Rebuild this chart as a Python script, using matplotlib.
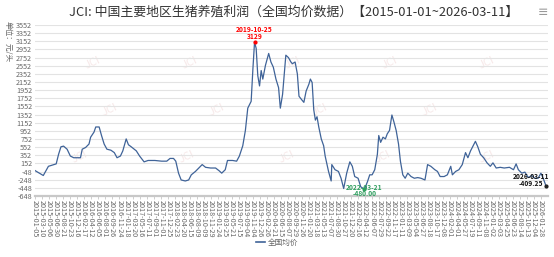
import matplotlib.pyplot as plt
import matplotlib.dates as mdates
from matplotlib.lines import Line2D
import numpy as np
import pandas as pd

plt.rcParams['font.family'] = ['Noto Sans CJK SC', 'DejaVu Sans']

# profit per head (yuan)
dates = [
    '2015-01-05', '2015-03-13', '2015-04-23', '2015-05-20', '2015-06-24', '2015-07-13',
    '2015-08-01', '2015-08-22', '2015-09-19', '2015-10-15', '2015-11-11', '2016-01-04',
    '2016-01-18', '2016-02-14', '2016-03-12', '2016-03-25', '2016-04-21', '2016-05-05',
    '2016-06-01', '2016-06-20', '2016-07-11', '2016-08-02', '2016-09-03', '2016-09-30',
    '2016-10-22', '2016-11-18', '2016-12-07', '2017-01-03', '2017-01-21', '2017-02-12',
    '2017-03-25', '2017-04-20', '2017-05-26', '2017-06-27', '2017-08-20', '2017-10-13',
    '2017-11-23', '2017-12-19', '2018-01-16', '2018-02-03', '2018-02-25', '2018-03-18',
    '2018-04-20', '2018-05-17', '2018-06-07', '2018-07-10', '2018-08-06', '2018-09-02',
    '2018-09-29', '2018-11-08', '2018-12-18', '2019-01-15', '2019-02-05', '2019-03-05',
    '2019-03-23', '2019-05-03', '2019-06-04', '2019-06-26', '2019-07-23', '2019-08-13',
    '2019-09-01', '2019-09-28', '2019-10-12', '2019-10-25', '2019-11-07', '2019-11-20',
    '2019-12-04', '2019-12-17', '2019-12-30', '2020-01-20', '2020-02-15', '2020-03-04',
    '2020-03-23', '2020-04-13', '2020-05-04', '2020-05-18', '2020-06-05', '2020-07-01',
    '2020-07-22', '2020-08-09', '2020-08-22', '2020-09-13', '2020-10-01', '2020-10-14',
    '2020-11-04', '2020-11-22', '2020-12-10', '2021-01-01', '2021-01-13', '2021-01-27',
    '2021-02-09', '2021-02-22', '2021-03-07', '2021-03-21', '2021-04-10', '2021-04-29',
    '2021-05-11', '2021-06-07', '2021-06-28', '2021-07-03', '2021-07-29', '2021-08-25',
    '2021-09-15', '2021-10-06', '2021-10-30', '2021-11-24', '2021-12-14', '2022-01-02',
    '2022-01-29', '2022-02-19', '2022-03-21', '2022-04-14', '2022-05-02', '2022-05-21',
    '2022-06-11', '2022-07-02', '2022-07-13', '2022-07-28', '2022-08-16', '2022-09-04',
    '2022-09-19', '2022-10-07', '2022-10-26', '2022-11-11', '2022-11-29', '2022-12-18',
    '2023-01-02', '2023-01-21', '2023-02-09', '2023-03-02', '2023-03-28', '2023-04-23',
    '2023-05-20', '2023-06-15', '2023-07-17', '2023-08-07', '2023-09-02', '2023-10-04',
    '2023-10-25', '2023-11-15', '2023-12-17', '2024-01-12', '2024-02-08', '2024-02-21',
    '2024-03-18', '2024-04-13', '2024-05-10', '2024-06-05', '2024-06-24', '2024-07-15',
    '2024-08-05', '2024-08-23', '2024-09-11', '2024-10-02', '2024-10-28', '2024-11-24',
    '2024-12-20', '2025-01-10', '2025-02-05', '2025-03-09', '2025-04-10', '2025-05-22',
    '2025-06-23', '2025-07-14', '2025-08-01', '2025-08-28', '2025-09-22', '2025-10-19',
    '2025-11-15', '2025-12-11', '2026-01-06', '2026-01-28', '2026-02-15', '2026-03-11',
]
profit = [
    -20, -143, 83, 108, 142, 377,
    562, 578, 503, 335, 293, 293,
    503, 545, 629, 797, 922, 1048,
    1048, 839, 629, 503, 478, 419,
    293, 335, 461, 755, 612, 562,
    461, 335, 192, 226, 226, 209,
    209, 276, 276, 209, -85, -252,
    -277, -252, -126, -43, 41, 125,
    58, 41, 41, -26, -85, -1,
    226, 226, 209, 335, 587, 964,
    1510, 1677, 2474, 3129, 2978, 2307,
    2055, 2433, 2223, 2558, 2852, 2642,
    2516, 2223, 2013, 1510, 1850, 2810,
    2750, 2650, 2600, 2642, 2349, 1803,
    1719, 1652, 1929, 2097, 2223, 2139,
    1468, 1216, 1300, 1048, 755, 587,
    335, -43, -277, 125, -1, -43,
    -210, -462, -85, 192, 83, -168,
    -210, -420, -480, -294, -126, -126,
    -1, 377, 839, 671, 797, 755,
    880, 964, 1342, 1174, 964, 629,
    209, -126, -210, -85, -168, -210,
    -194, -210, -252, 125, 83, -1,
    -43, -168, -168, -126, 83, -126,
    -43, -1, 125, 419, 293, 461,
    587, 696, 562, 377, 293, 167,
    83, 167, 41, 58, 41, 58,
    -1, 142, -1, -85, -60, -194,
    -143, -210, -210, -85, -210, -409.25,
]

tick_labels = [
    '2015-01-05', '2015-03-10', '2015-05-06', '2015-06-30', '2015-08-21', '2015-10-23',
    '2015-12-16', '2016-02-17', '2016-04-12', '2016-06-05', '2016-08-01', '2016-09-26',
    '2016-11-24', '2017-01-18', '2017-03-20', '2017-05-16', '2017-07-11', '2017-09-01',
    '2017-11-01', '2017-12-25', '2018-02-23', '2018-04-20', '2018-06-15', '2018-08-09',
    '2018-10-09', '2018-11-29', '2019-01-24', '2019-03-25', '2019-05-21', '2019-07-15',
    '2019-09-04', '2019-11-04', '2019-12-26', '2020-02-26', '2020-04-21', '2020-06-15',
    '2020-08-07', '2020-09-29', '2020-11-26', '2021-01-20', '2021-03-18', '2021-05-13',
    '2021-07-07', '2021-08-30', '2021-10-27', '2021-12-20', '2022-02-16', '2022-04-12',
    '2022-06-07', '2022-07-29', '2022-09-22', '2022-11-17', '2023-01-11', '2023-03-09',
    '2023-05-04', '2023-06-27', '2023-08-18', '2023-10-17', '2023-12-08', '2024-02-01',
    '2024-04-01', '2024-05-27', '2024-07-19', '2024-09-11', '2024-11-08', '2025-01-02',
    '2025-03-03', '2025-04-25', '2025-06-23', '2025-08-14', '2025-10-13', '2025-12-04',
    '2026-01-28',
]
y_ticks = list(range(-648, 3553, 200))

peak_date, peak_val = '2019-10-25', 3129
low_date, low_val = '2022-03-21', -480.00
last_date, last_val = '2026-03-11', -409.25

fig = plt.figure(figsize=(5.54, 2.57), dpi=100)
ax = fig.add_axes([0.063, 0.237, 0.926, 0.666])

x = mdates.date2num(pd.to_datetime(dates))
ax.plot(x, profit, color='#3f6398', lw=0.9, zorder=3)

# faint watermarks
for wx, wy in [(93, 63), (190, 63), (293, 63), (390, 63), (487, 63),
               (110, 110), (217, 110), (320, 110), (430, 110),
               (80, 157), (187, 157), (287, 157), (383, 157), (487, 157)]:
    ax.text(wx / 554, 1 - wy / 257, 'JCI', transform=fig.transFigure, rotation=25,
            fontsize=8, color='#f7e9e9', ha='center', va='center', zorder=0)

x0 = mdates.date2num(pd.Timestamp(tick_labels[0]))
x1 = mdates.date2num(pd.Timestamp(tick_labels[-1]))
ax.set_xticks(np.linspace(x0, x1, len(tick_labels)))
ax.set_xticklabels(tick_labels, rotation=-90, fontsize=5.2, color='#666')
ax.set_xlim(x0, x0 + (x1 - x0) * 513 / 506)
ax.tick_params(axis='x', length=2, width=0.5, color='#bbb', pad=1)

ax.set_ylim(-648, 3552)
ax.set_yticks(y_ticks)
ax.set_yticklabels([str(v) for v in y_ticks], fontsize=5.2, color='#666')
ax.tick_params(axis='y', length=0, pad=2)
ax.grid(axis='y', color='#e3e3e3', lw=0.8)
ax.set_axisbelow(True)
for s in ['top', 'right', 'left']:
    ax.spines[s].set_visible(False)
ax.spines['bottom'].set_color('#c8c8c8')
ax.spines['bottom'].set_linewidth(1.6)

# markers and labels
px = mdates.date2num(pd.Timestamp(peak_date))
ax.plot(px, peak_val, 'o', color='red', ms=2, zorder=4)
ax.annotate(peak_date, (px, peak_val), xytext=(0, 9), textcoords='offset pixels',
            ha='center', va='bottom', fontsize=4.8, color='red', fontweight='bold')
ax.annotate(str(peak_val), (px, peak_val), xytext=(0, 2), textcoords='offset pixels',
            ha='center', va='bottom', fontsize=4.8, color='red', fontweight='bold')

lx = mdates.date2num(pd.Timestamp(low_date))
ax.plot(lx, low_val, 'o', color='#2e9e5e', ms=2, zorder=4)
ax.annotate(low_date, (lx, low_val), xytext=(0, 2), textcoords='offset pixels',
            ha='center', va='center', fontsize=4.8, color='#2e9e5e', fontweight='bold')
ax.annotate(f'{low_val:.2f}', (lx, low_val), xytext=(0, -4), textcoords='offset pixels',
            ha='center', va='center', fontsize=4.8, color='#2e9e5e', fontweight='bold')

ex = mdates.date2num(pd.Timestamp(last_date))
ax.plot(ex, last_val, 'o', color='#222', ms=2, zorder=4)
ax.annotate(last_date, (ex, last_val), xytext=(-15, 10), textcoords='offset pixels',
            ha='center', va='center', fontsize=4.8, color='#111', fontweight='bold')
ax.annotate(f'{last_val:.2f}', (ex, last_val), xytext=(-15, 3), textcoords='offset pixels',
            ha='center', va='center', fontsize=4.8, color='#111', fontweight='bold')

fig.text(0.53, 0.953, 'JCI: 中国主要地区生猪养殖利润（全国均价数据）【2015-01-01~2026-03-11】',
         ha='center', va='center', fontsize=9.3, color='#333')
fig.text(543 / 554, 0.953, '≡', ha='center', va='center', fontsize=9, color='#999',
         family='DejaVu Sans')
fig.text(8 / 554, 1 - 21 / 257, '单位：元/头', rotation=-90, ha='center', va='top',
         fontsize=5.5, color='#666')

handle = Line2D([0], [0], color='#3f6398', lw=1.2)
fig.legend([handle], ['全国均价'], loc='center', bbox_to_anchor=(0.5, 1 - 243 / 257),
           frameon=False, fontsize=5.5, handlelength=1.2, handletextpad=0.4,
           labelcolor='#666')

fig.savefig('out.png', dpi=100)
